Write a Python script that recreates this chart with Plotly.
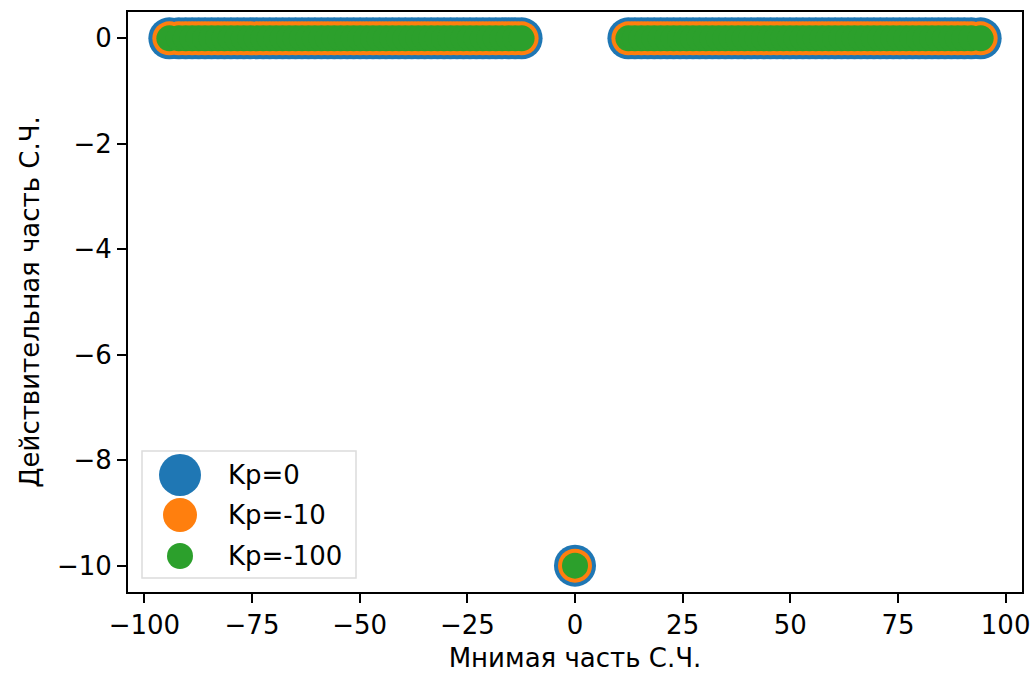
import plotly.graph_objects as go

# Eigenvalue data (imag part on x, real part on y)
band_pos = [12.4, 13.9, 15.4, 16.9, 18.4, 19.9, 21.4, 22.9, 24.4, 25.9, 27.4, 28.9,
            30.4, 31.9, 33.4, 34.9, 36.4, 37.9, 39.4, 40.9, 42.4, 43.9, 45.4, 46.9,
            48.4, 49.9, 51.4, 52.9, 54.4, 55.9, 57.4, 58.9, 60.4, 61.9, 63.4, 64.9,
            66.4, 67.9, 69.4, 70.9, 72.4, 73.9, 75.4, 76.9, 78.4, 79.9, 81.4, 82.9,
            84.4, 85.9, 87.4, 88.9, 90.4, 92.0, 94.2]
band_neg = [-94.2, -92.0, -90.4, -88.9, -87.4, -85.9, -84.4, -82.9, -81.4, -79.9,
            -78.4, -76.9, -75.4, -73.9, -72.4, -70.9, -69.4, -67.9, -66.4, -64.9,
            -63.4, -61.9, -60.4, -58.9, -57.4, -55.9, -54.4, -52.9, -51.4, -49.9,
            -48.4, -46.9, -45.4, -43.9, -42.4, -40.9, -39.4, -37.9, -36.4, -34.9,
            -33.4, -31.9, -30.4, -28.9, -27.4, -25.9, -24.4, -22.9, -21.4, -19.9,
            -18.4, -16.9, -15.4, -13.9, -12.4]
imag_parts = band_neg + [0.0] + band_pos
real_parts = [0.0] * len(band_neg) + [-10.0] + [0.0] * len(band_pos)

series_names = ["Kp=0", "Kp=-10", "Kp=-100"]
series_colors = ["#1f77b4", "#ff7f0e", "#2ca02c"]
series_sizes = [42, 34, 26]

x_ticks = [-100, -75, -50, -25, 0, 25, 50, 75, 100]
y_ticks = [0, -2, -4, -6, -8, -10]

FONT = "DejaVu Sans"
FS = 26

fig = go.Figure()
for name, col, sz in zip(series_names, series_colors, series_sizes):
    fig.add_trace(go.Scatter(
        x=imag_parts, y=real_parts, mode="markers", name=name,
        marker=dict(color=col, size=sz, line=dict(width=0)),
        showlegend=False,
    ))

# Custom legend (matplotlib-like large markers)
L, R, T, B = 128, 1022, 12, 592
W, H = R - L, B - T
def px(x):
    return (x - L) / W
def py(y):
    return (B - y) / H

shapes = [dict(type="rect", xref="paper", yref="paper",
               x0=px(142), x1=px(356), y0=py(578), y1=py(451),
               line=dict(color="#dcdcdc", width=1.5), fillcolor="rgba(255,255,255,0.8)",
               layer="above")]
annotations = []
legend_y = [475, 515, 556]
for name, col, sz, ly in zip(series_names, series_colors, series_sizes, legend_y):
    r = sz / 2
    shapes.append(dict(type="circle", xref="paper", yref="paper",
                       xsizemode="pixel", ysizemode="pixel",
                       xanchor=px(180), yanchor=py(ly),
                       x0=-r, x1=r, y0=-r, y1=r,
                       fillcolor=col, line=dict(width=0), layer="above"))
    annotations.append(dict(xref="paper", yref="paper", x=px(226), y=py(ly),
                            text=name, showarrow=False, xanchor="left", yanchor="middle",
                            font=dict(family=FONT, size=FS, color="#000000")))

axis_common = dict(
    showgrid=False, zeroline=False, showline=True, mirror=True, automargin=False,
    linecolor="#000000", linewidth=2, ticks="outside", ticklen=9, tickwidth=2,
    tickcolor="#000000", tickfont=dict(family=FONT, size=FS, color="#000000"),
)

fig.update_layout(
    width=1032, height=673,
    margin=dict(l=L, r=1032 - R, t=T, b=673 - B),
    plot_bgcolor="white", paper_bgcolor="white",
    font=dict(family=FONT, size=FS, color="#000000"),
    xaxis=dict(range=[-103.8, 103.8], tickvals=x_ticks,
               title=dict(text="Мнимая часть С.Ч.", font=dict(family=FONT, size=FS), standoff=12),
               **axis_common),
    yaxis=dict(range=[-10.5, 0.5], tickvals=y_ticks,
               title=dict(text="Действительная часть С.Ч.", font=dict(family=FONT, size=FS), standoff=10),
               **axis_common),
    shapes=shapes, annotations=annotations,
    showlegend=False,
)

fig.write_html("out.html")
